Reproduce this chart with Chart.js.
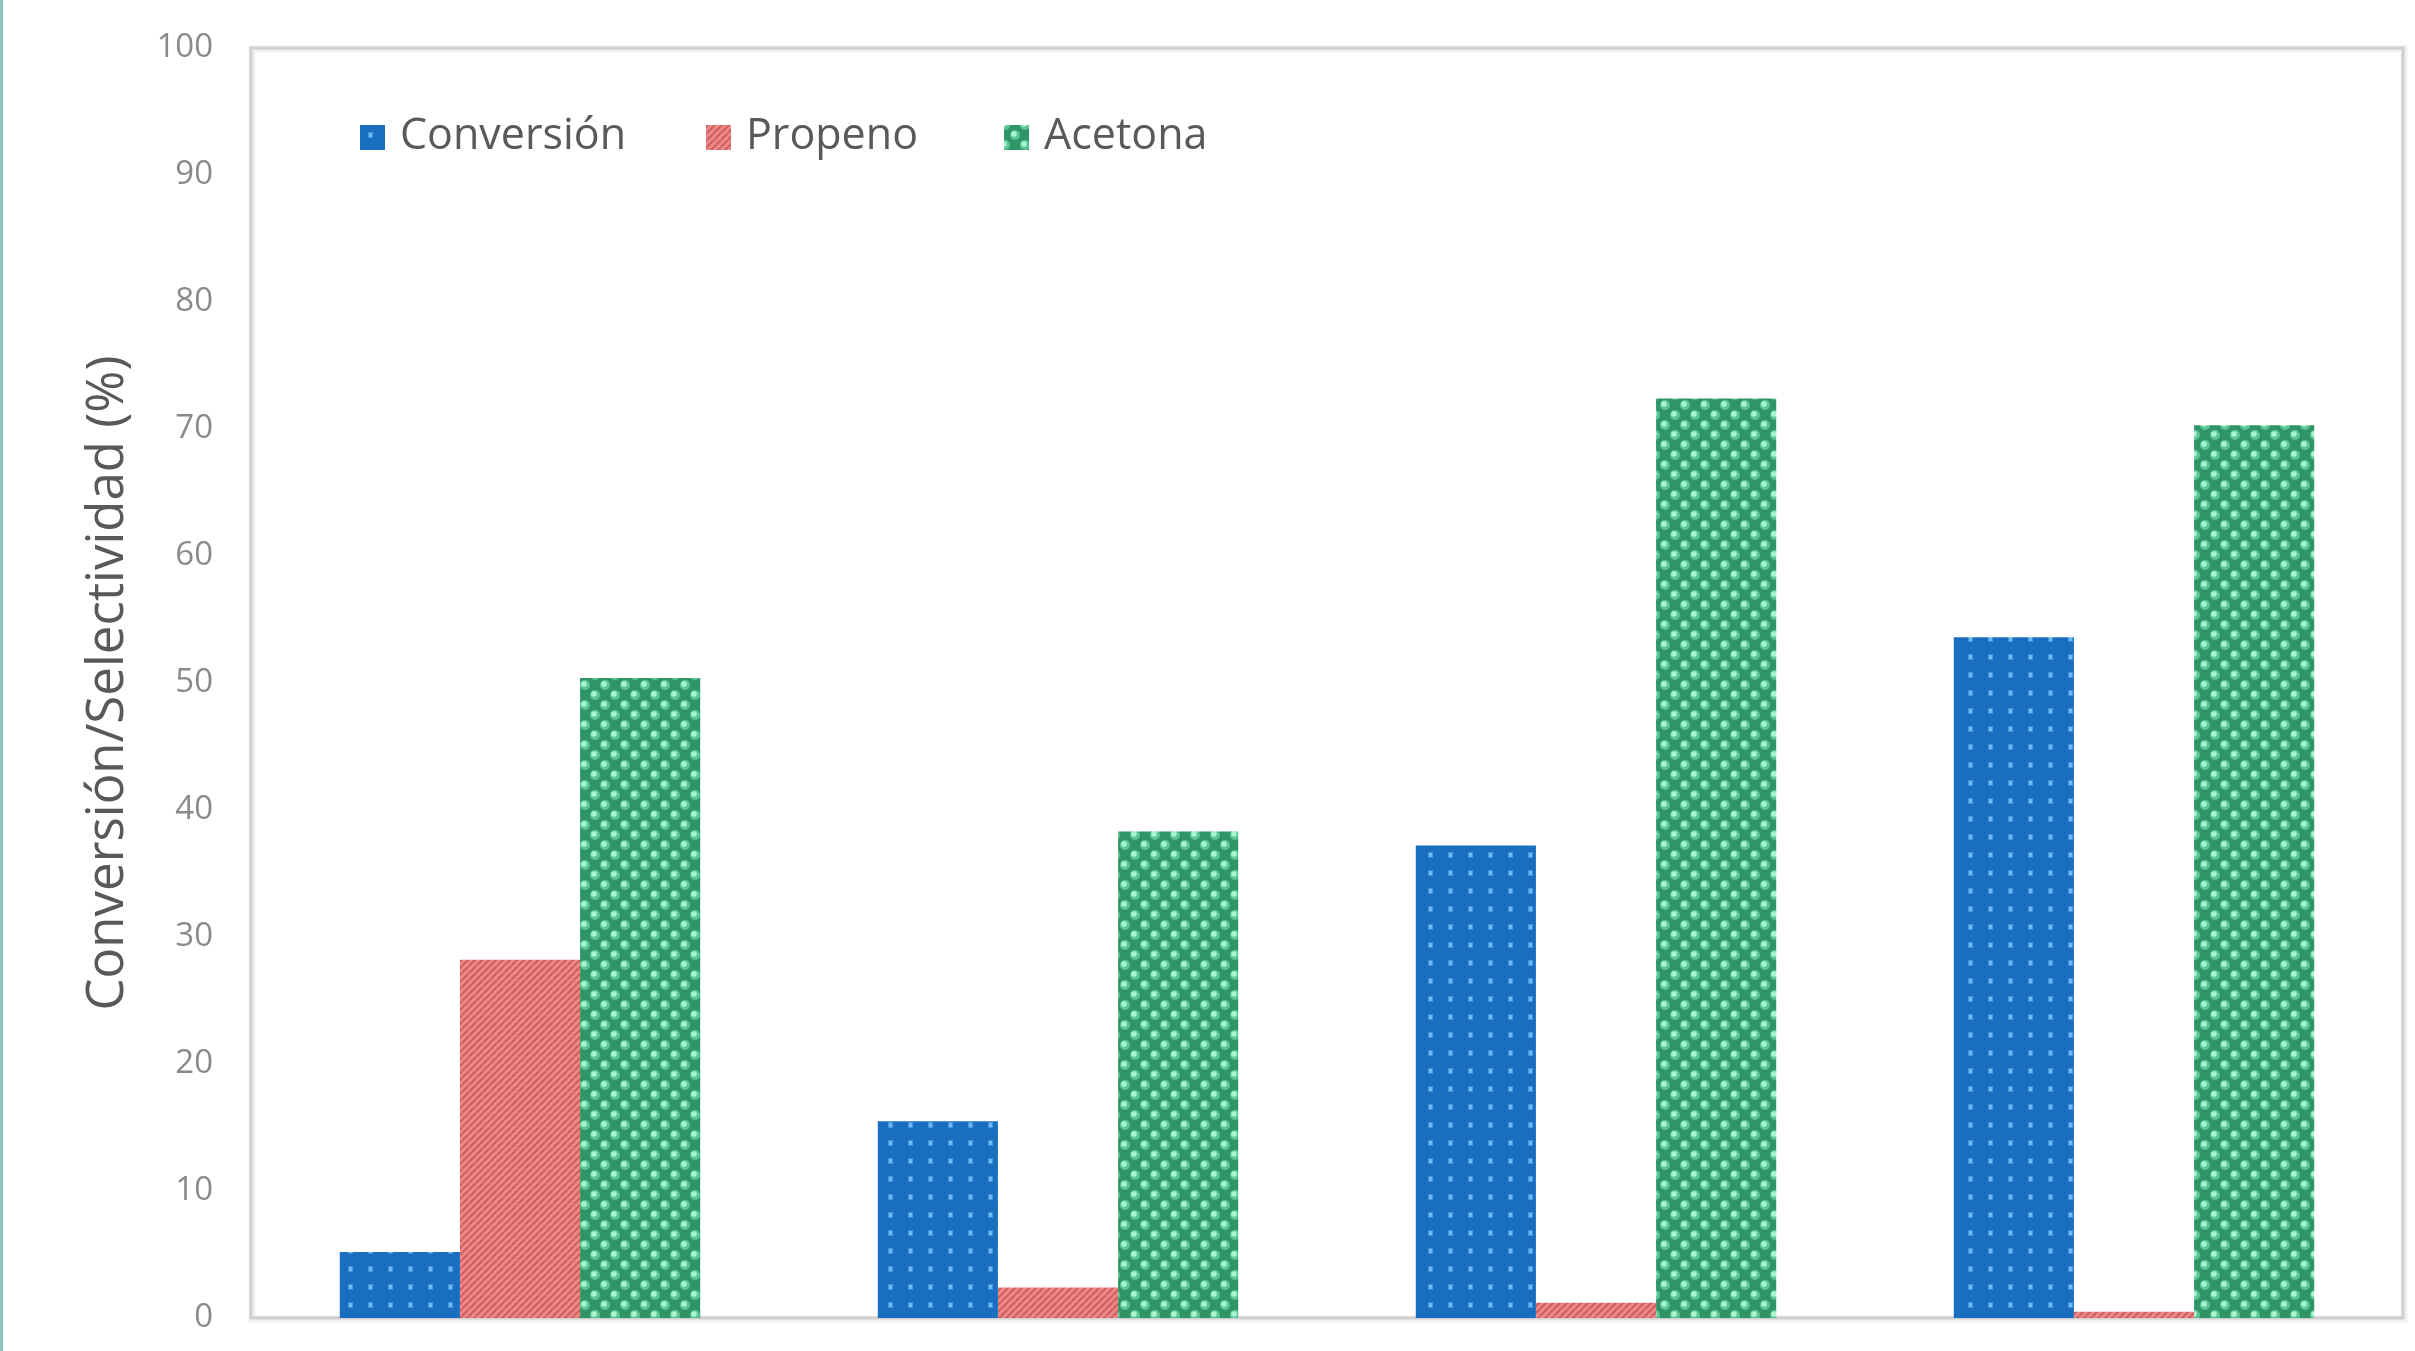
<!DOCTYPE html>
<html lang="es">
<head>
  <meta charset="UTF-8">
  <title>Conversión y selectividad</title>
  <script src="https://cdn.jsdelivr.net/npm/chart.js"></script>
  <style>
    html, body {
      margin: 0;
      padding: 0;
      background: #fff;
      overflow: hidden;
    }
    .edge {
      position: absolute;
      left: 0;
      top: 0;
      width: 3px;
      height: 1351px;
      background: #8fc3c1;
    }
    #chart {
      display: block;
    }
  </style>
</head>
<body>
  <div class="edge"></div>
  <canvas id="chart" width="2415" height="1351"></canvas>

  <script>
    const categories = ['1', '2', '3', '4'];
    const seriesNames = ['Conversión', 'Propeno', 'Acetona'];
    const conversion = [5.2, 15.5, 37.2, 53.6];
    const propene = [28.2, 2.4, 1.2, 0.5];
    const acetone = [50.4, 38.3, 72.4, 70.3];
    const yTicks = [0, 10, 20, 30, 40, 50, 60, 70, 80, 90, 100];

    // small tiles used as fill patterns for the bars
    function makeTile(w, h, paint) {
      const c = document.createElement('canvas');
      c.width = w;
      c.height = h;
      paint(c.getContext('2d'));
      return document.getElementById('chart').getContext('2d').createPattern(c, 'repeat');
    }

    const bluePattern = makeTile(20, 18, g => {
      g.fillStyle = '#1a6ec0';
      g.fillRect(0, 0, 20, 18);
      g.fillStyle = '#3f93df';
      g.fillRect(8, 6, 5, 6);
      g.fillStyle = '#6bb8f2';
      g.fillRect(9, 7, 3, 4);
    });

    const redPattern = makeTile(7, 7, g => {
      g.fillStyle = '#ef8686';
      g.fillRect(0, 0, 7, 7);
      g.strokeStyle = '#c95858';
      g.lineWidth = 1.6;
      for (let k = -7; k <= 14; k += 7) {
        g.beginPath();
        g.moveTo(k, 7);
        g.lineTo(k + 7, 0);
        g.stroke();
      }
    });

    const greenPattern = makeTile(20, 20, g => {
      g.fillStyle = '#2f9466';
      g.fillRect(0, 0, 20, 20);
      g.fillStyle = '#5cc795';
      [[5, 5], [15, 15]].forEach(([x, y]) => {
        g.beginPath();
        g.arc(x, y, 5, 0, Math.PI * 2);
        g.fill();
      });
      g.fillStyle = '#a8f5d0';
      [[4, 4], [14, 14]].forEach(([x, y]) => {
        g.beginPath();
        g.arc(x, y, 2.8, 0, Math.PI * 2);
        g.fill();
      });
    });

    // plot frame drawn under the bars
    const frame = {
      id: 'frame',
      beforeDatasetsDraw(chart) {
        const { ctx, chartArea: a } = chart;
        ctx.save();
        ctx.strokeStyle = 'rgba(0,0,0,0.06)';
        ctx.lineWidth = 7;
        ctx.strokeRect(a.left + 1, a.top + 1, a.right - a.left, a.bottom - a.top);
        ctx.strokeStyle = '#cfcfcf';
        ctx.lineWidth = 3;
        ctx.strokeRect(a.left, a.top, a.right - a.left, a.bottom - a.top);
        ctx.restore();
      }
    };

    // legend laid out inside the plot, near its top left corner
    const innerLegend = {
      id: 'innerLegend',
      afterDraw(chart) {
        const { ctx } = chart;
        const starts = [360, 706, 1004];
        const y = 137;
        ctx.save();
        ctx.font = '43px "Open Sans", sans-serif';
        ctx.textBaseline = 'middle';
        chart.data.datasets.forEach((ds, i) => {
          const x = starts[i];
          ctx.fillStyle = ds.backgroundColor;
          ctx.fillRect(x, y - 12, 25, 25);
          ctx.fillStyle = '#595959';
          ctx.fillText(ds.label, x + 40, y);
        });
        ctx.restore();
      }
    };

    new Chart(document.getElementById('chart'), {
      type: 'bar',
      data: {
        labels: categories,
        datasets: [
          { label: seriesNames[0], data: conversion, backgroundColor: bluePattern },
          { label: seriesNames[1], data: propene, backgroundColor: redPattern },
          { label: seriesNames[2], data: acetone, backgroundColor: greenPattern }
        ]
      },
      options: {
        responsive: false,
        animation: false,
        layout: { padding: { top: 48, right: 12, bottom: 33, left: 0 } },
        datasets: {
          bar: { categoryPercentage: 0.67, barPercentage: 1.0, borderWidth: 0 }
        },
        plugins: {
          legend: { display: false },
          tooltip: { enabled: false }
        },
        scales: {
          x: { display: false },
          y: {
            min: 0,
            max: 100,
            afterFit(scale) {
              scale.width = 251;
              scale.paddingTop = 0;
              scale.paddingBottom = 0;
            },
            afterBuildTicks(scale) { scale.ticks = yTicks.map(v => ({ value: v })); },
            grid: { display: false, drawTicks: false },
            border: { display: false },
            ticks: {
              padding: 38,
              color: '#8a8a8a',
              font: { family: 'Open Sans', size: 33 }
            },
            title: {
              display: true,
              text: 'Conversión/Selectividad (%)',
              color: '#595959',
              font: { family: 'Open Sans', size: 51 },
              padding: { top: 78, bottom: 0 }
            }
          }
        }
      },
      plugins: [frame, innerLegend]
    });
  </script>
</body>
</html>
